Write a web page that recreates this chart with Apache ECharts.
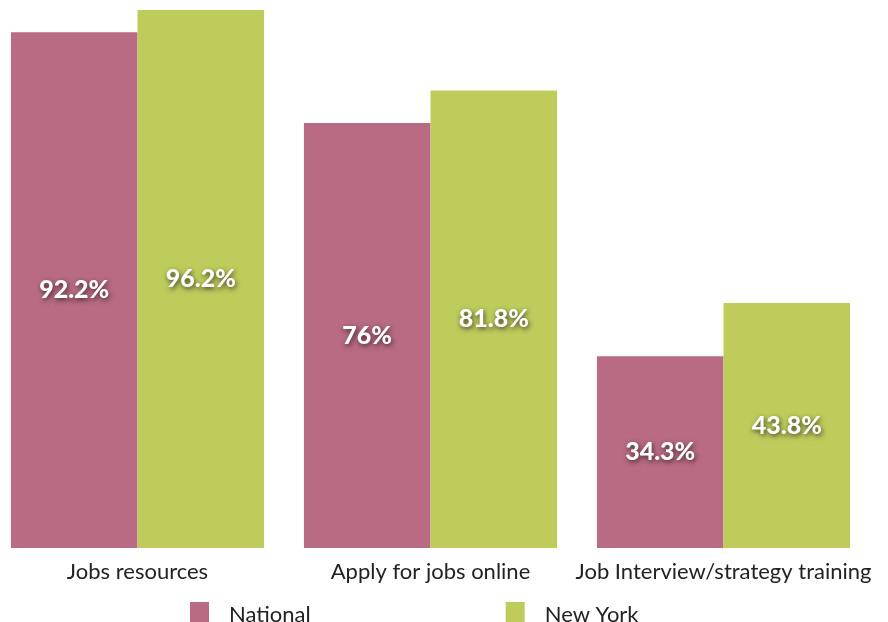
<!DOCTYPE html>
<html><head><meta charset="utf-8">
<script src="https://cdn.jsdelivr.net/npm/echarts@6/dist/echarts.min.js"></script>
<style>html,body{margin:0;padding:0;background:#fff;overflow:hidden}#c{position:absolute;left:-9px;top:0;width:897px;height:622px}</style>
</head><body><div id="c"></div>
<script>
const categories = ['Jobs resources', 'Apply for jobs online', 'Job Interview/strategy training'];
const national = [92.2, 76, 34.3];
const newYork = [96.2, 81.8, 43.8];
const seriesNames = ['National', 'New York'];

const chart = echarts.init(document.getElementById('c'));
const lbl = {
  show: true, position: 'inside', color: '#fff', fontFamily: 'Lato', fontWeight: 900, fontSize: 25,
  textShadowColor: 'rgba(40,20,20,0.8)', textShadowBlur: 5, textShadowOffsetX: 1, textShadowOffsetY: 2,
  formatter: p => p.value + '%'
};
chart.setOption({
  animation: false,
  grid: { left: 0, right: 18, top: 10, bottom: 74, containLabel: false },
  legend: {
    data: seriesNames, left: 194, top: 597, itemWidth: 19, itemHeight: 25, itemGap: 195, icon: 'rect',
    textStyle: { fontFamily: 'Lato', fontSize: 22, color: '#222', padding: [0, 0, 0, 15] }
  },
  xAxis: {
    type: 'category', data: categories,
    axisLine: { show: false }, axisTick: { show: false },
    axisLabel: { interval: 0, fontFamily: 'Lato', fontSize: 22, color: '#222', margin: 13 }
  },
  yAxis: { type: 'value', min: 0, max: 96.2, show: false, splitLine: { show: false } },
  series: [
    { name: seriesNames[0], type: 'bar', data: national, barGap: '0%', barCategoryGap: '13.6%', itemStyle: { color: '#b86b82' }, label: lbl },
    { name: seriesNames[1], type: 'bar', data: newYork, barGap: '0%', barCategoryGap: '13.6%', itemStyle: { color: '#bfcc5c' }, label: lbl }
  ]
});
</script></body></html>
